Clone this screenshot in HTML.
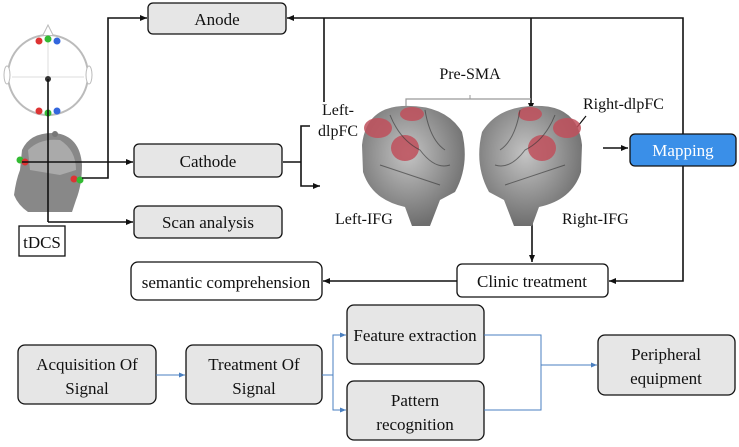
<!DOCTYPE html>
<html><head><meta charset="utf-8"><style>
html,body{margin:0;padding:0;background:#fff;}
svg text{font-family:"Liberation Serif","Times New Roman","DejaVu Serif",serif;fill:#111;}
</style></head><body>
<svg width="739" height="442" viewBox="0 0 739 442" xmlns="http://www.w3.org/2000/svg" font-family="'Liberation Serif', 'Times New Roman', serif">
<defs>
<marker id="a" markerWidth="8" markerHeight="8" refX="7" refY="4" orient="auto" markerUnits="userSpaceOnUse"><path d="M0,1 L7,4 L0,7z" fill="#111"/></marker>
<marker id="b" markerWidth="8" markerHeight="8" refX="6" refY="3.5" orient="auto" markerUnits="userSpaceOnUse"><path d="M0,1 L6,3.5 L0,6z" fill="#4a7fc0"/></marker>
<radialGradient id="g" cx="45%" cy="40%" r="60%"><stop offset="0" stop-color="#c4c4c4"/><stop offset="1" stop-color="#6e6e6e"/></radialGradient>
</defs>
<circle cx="48" cy="75" r="40" fill="#fff" stroke="#bbb" stroke-width="2"/>
<ellipse cx="7" cy="75" rx="3" ry="9" fill="#fff" stroke="#bbb"/>
<ellipse cx="89" cy="75" rx="3" ry="9" fill="#fff" stroke="#bbb"/>
<path d="M43,35 L48,25 L53,35" fill="#fff" stroke="#bbb"/>
<line x1="12" y1="77" x2="84" y2="77" stroke="#ddd"/>
<line x1="48" y1="38" x2="48" y2="113" stroke="#ddd"/>
<circle cx="39" cy="41" r="3.5" fill="#d33"/><circle cx="48" cy="39" r="3.5" fill="#3b3"/><circle cx="57" cy="41" r="3.5" fill="#36d"/>
<circle cx="39" cy="111" r="3.5" fill="#d33"/><circle cx="48" cy="113" r="3.5" fill="#3b3"/><circle cx="57" cy="111" r="3.5" fill="#36d"/>
<circle cx="48" cy="79" r="3" fill="#333"/>
<path d="M22,150 Q30,132 55,133 Q80,136 82,165 Q82,185 76,200 L72,212 L28,212 Q18,205 14,195 Q16,180 20,170 Z" fill="#888"/>
<path d="M28,150 Q40,138 60,140 Q76,150 76,170 L60,175 L30,170Z" fill="#aaa"/>
<circle cx="55" cy="134" r="3" fill="#777"/>
<circle cx="20" cy="160" r="3.5" fill="#3b3"/><circle cx="25" cy="162" r="3.5" fill="#d33"/>
<circle cx="74" cy="179" r="3.5" fill="#d33"/><circle cx="80" cy="180" r="3.5" fill="#3b3"/>
<g stroke="#111" stroke-width="1.6" fill="none">
<line x1="48" y1="79" x2="48" y2="222"/>
<line x1="48" y1="222" x2="133" y2="222" marker-end="url(#a)"/>
<line x1="22" y1="162" x2="133" y2="162" marker-end="url(#a)"/>
<polyline points="82,178 108,178 108,18 147,18" marker-end="url(#a)"/>
<polyline points="683,150 683,18 287,18" marker-end="url(#a)"/>
<line x1="324" y1="18" x2="324" y2="102"/>
<line x1="531" y1="18" x2="531" y2="110" marker-end="url(#a)"/>
<polyline points="283,162 301,162"/>
<polyline points="310,126 301,126 301,186 320,186" marker-end="url(#a)"/>
<polyline points="683,150 683,281 609,281" marker-end="url(#a)"/>
<line x1="457" y1="281" x2="323" y2="281" marker-end="url(#a)"/>
<line x1="532" y1="215" x2="532" y2="262" marker-end="url(#a)"/>
<line x1="603" y1="148" x2="628" y2="148" marker-end="url(#a)"/>
<line x1="570" y1="136" x2="586" y2="116" stroke-width="1.2"/>
</g>
<polyline points="406,110 406,99 531,99" fill="none" stroke="#999" stroke-width="1.2"/>
<line x1="470" y1="99" x2="470" y2="95" stroke="#999"/>
<path d="M362,145 Q366,108 402,106 Q445,104 462,132 Q470,165 455,192 L440,200 L430,226 L412,226 L405,207 Q372,200 363,172 Z" fill="url(#g)"/>
<path d="M582,145 Q578,108 542,106 Q499,104 482,132 Q474,165 489,192 L504,200 L514,226 L532,226 L539,207 Q572,200 581,172 Z" fill="url(#g)"/>
<g fill="#c0505c" opacity="0.85">
<ellipse cx="378" cy="128" rx="14" ry="10"/><ellipse cx="412" cy="114" rx="12" ry="7"/><ellipse cx="405" cy="148" rx="14" ry="13"/>
<ellipse cx="567" cy="128" rx="14" ry="10"/><ellipse cx="530" cy="114" rx="12" ry="7"/><ellipse cx="542" cy="148" rx="14" ry="13"/>
</g>
<g stroke="#333" stroke-width="1" fill="none" opacity="0.6">
<path d="M390,115 Q400,140 420,150 Q435,170 450,165"/><path d="M380,165 Q410,175 440,185"/><path d="M425,110 Q430,140 445,150"/>
<path d="M555,115 Q545,140 525,150 Q510,170 495,165"/><path d="M565,165 Q535,175 505,185"/><path d="M520,110 Q515,140 500,150"/>
</g>
<g font-size="16">
<text x="470" y="79" text-anchor="middle">Pre-SMA</text>
<text x="322" y="115">Left-</text><text x="318" y="136">dlpFC</text>
<text x="583" y="109">Right-dlpFC</text>
<text x="335" y="224">Left-IFG</text>
<text x="562" y="224">Right-IFG</text>
</g>
<g stroke="#111" stroke-width="1.3">
<rect x="148" y="3" width="138" height="31" rx="5" fill="#e6e6e6"/>
<rect x="134" y="144" width="148" height="33" rx="5" fill="#e6e6e6"/>
<rect x="134" y="206" width="148" height="32" rx="5" fill="#e6e6e6"/>
<rect x="19" y="226" width="46" height="30" fill="#fff"/>
<rect x="131" y="262" width="191" height="38" rx="7" fill="#fff"/>
<rect x="457" y="264" width="151" height="33" rx="5" fill="#fff"/>
<rect x="630" y="134" width="106" height="32" rx="5" fill="#3a8fe8"/>
<rect x="18" y="345" width="138" height="59" rx="7" fill="#e6e6e6"/>
<rect x="186" y="345" width="136" height="59" rx="7" fill="#e6e6e6"/>
<rect x="347" y="305" width="137" height="59" rx="7" fill="#e6e6e6"/>
<rect x="347" y="381" width="137" height="59" rx="7" fill="#e6e6e6"/>
<rect x="598" y="335" width="137" height="60" rx="7" fill="#e6e6e6"/>
</g>
<g font-size="17" text-anchor="middle">
<text x="217" y="25">Anode</text>
<text x="208" y="167">Cathode</text>
<text x="208" y="228">Scan analysis</text>
<text x="42" y="248">tDCS</text>
<text x="226" y="288">semantic comprehension</text>
<text x="532" y="287">Clinic treatment</text>
<text x="683" y="156" style="fill:#fff">Mapping</text>
<text x="87" y="370">Acquisition Of</text><text x="87" y="394">Signal</text>
<text x="254" y="370">Treatment Of</text><text x="254" y="394">Signal</text>
<text x="415" y="341">Feature extraction</text>
<text x="415" y="406">Pattern</text><text x="415" y="430">recognition</text>
<text x="666" y="360">Peripheral</text><text x="666" y="384">equipment</text>
</g>
<g stroke="#4a7fc0" stroke-width="1" fill="none">
<line x1="156" y1="375" x2="185" y2="375" marker-end="url(#b)"/>
<polyline points="322,375 333,375 333,335 346,335" marker-end="url(#b)"/>
<polyline points="333,375 333,410 346,410" marker-end="url(#b)"/>
<polyline points="484,335 541,335 541,410 484,410"/>
<line x1="541" y1="365" x2="597" y2="365" marker-end="url(#b)"/>
</g>
</svg>
</body></html>
